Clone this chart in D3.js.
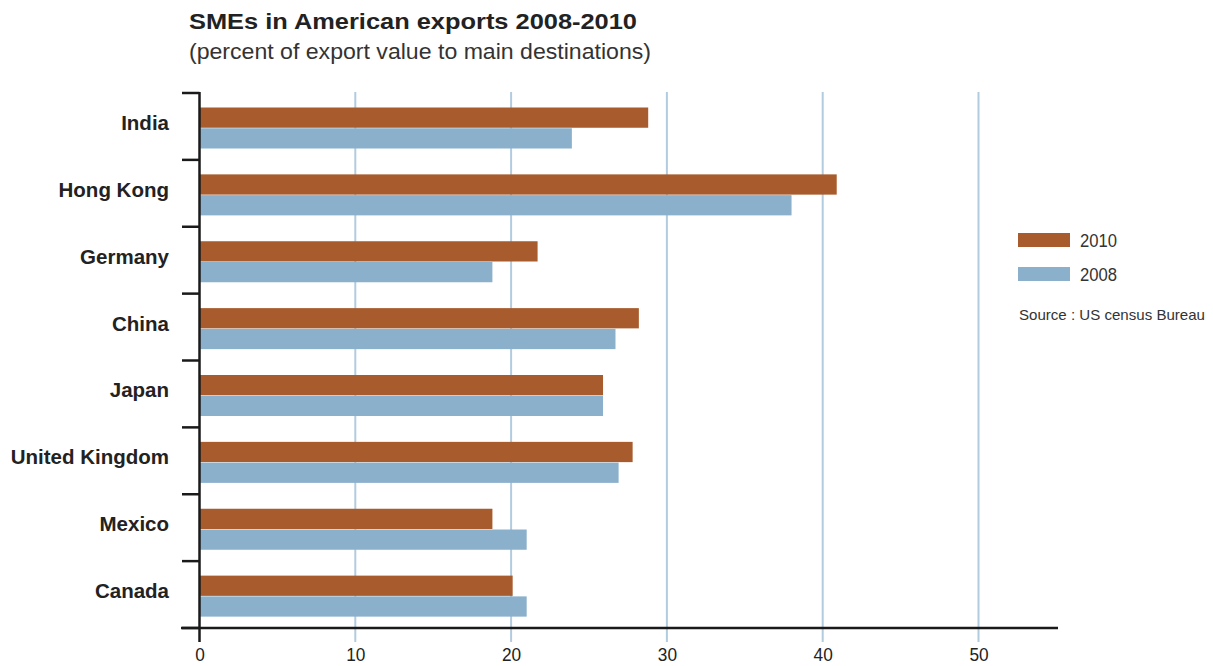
<!DOCTYPE html>
<html><head><meta charset="utf-8">
<script src="https://cdn.jsdelivr.net/npm/d3@7"></script>
<style>
html,body{margin:0;padding:0;background:#fff;}
svg{display:block;font-family:"Liberation Sans",Arial,Helvetica,sans-serif;}
</style></head>
<body>
<svg id="chart" width="1213" height="666"></svg>
<script>
const categories = ["India","Hong Kong","Germany","China","Japan","United Kingdom","Mexico","Canada"];
const values2010 = [28.8, 40.9, 21.7, 28.2, 25.9, 27.8, 18.8, 20.1];
const values2008 = [23.9, 38.0, 18.8, 26.7, 25.9, 26.9, 21.0, 21.0];
const seriesNames = ["2010","2008"];
const seriesColors = ["#A85B2C","#8AB0CB"];
const xTicks = [0,10,20,30,40,50];
const title = "SMEs in American exports 2008-2010";
const subtitle = "(percent of export value to main destinations)";
const source = "Source : US census Bureau";

const svg = d3.select("#chart");
const x0 = 199.5, pxPerUnit = 15.58;
const x = d3.scaleLinear().domain([0,55]).range([x0, x0 + 55*pxPerUnit]);
const y = d3.scaleBand().domain(categories).range([93,628]).paddingInner(0).paddingOuter(0);
const inner = d3.scaleBand().domain(seriesNames).range([0,41]).paddingInner(1/41);
const innerOffset = 14.5;

// gridlines
svg.append("g").selectAll("line").data(xTicks.filter(t=>t>0)).join("line")
  .attr("x1",d=>x(d)).attr("x2",d=>x(d)).attr("y1",92).attr("y2",642)
  .attr("stroke","#B2CCDF").attr("stroke-width",2);

// bars
const data = categories.map((c,i)=>({c, vals:[{s:"2010",v:values2010[i]},{s:"2008",v:values2008[i]}]}));
const groups = svg.append("g").selectAll("g").data(data).join("g")
  .attr("transform",d=>`translate(0,${y(d.c)+innerOffset})`);
groups.selectAll("rect").data(d=>d.vals).join("rect")
  .attr("x",x(0)).attr("y",d=>inner(d.s)).attr("height",inner.bandwidth())
  .attr("width",d=>x(d.v)-x(0))
  .attr("fill",d=>seriesColors[seriesNames.indexOf(d.s)]);

// x axis
const xAxis = svg.append("g").attr("transform","translate(0,628)")
  .call(d3.axisBottom(x).tickValues(xTicks).tickSize(0));
xAxis.select(".domain").remove();
xAxis.append("line").attr("x1",181).attr("x2",1058).attr("y1",0).attr("y2",0)
  .attr("stroke","#1a1a1a").attr("stroke-width",2.5);
xAxis.selectAll(".tick text").attr("font-size",19).attr("fill","#222")
  .attr("y",33).attr("dy",0)
  .attr("textLength",function(){return this.textContent.length*9.6;})
  .attr("lengthAdjust","spacingAndGlyphs");

// y axis
const yAxisG = svg.append("g");
yAxisG.append("line").attr("x1",x0).attr("x2",x0).attr("y1",92).attr("y2",642)
  .attr("stroke","#1a1a1a").attr("stroke-width",2.5);
const boundaries = categories.map(c=>y(c)).concat([y.range()[1]]);
yAxisG.selectAll("line.tick").data(boundaries).join("line").attr("class","tick")
  .attr("x1",182).attr("x2",x0).attr("y1",d=>d).attr("y2",d=>d)
  .attr("stroke","#1a1a1a").attr("stroke-width",2.5);
yAxisG.selectAll("text").data(categories).join("text")
  .attr("x",169).attr("y",d=>y(d)+y.bandwidth()/2+3.5)
  .attr("text-anchor","end").attr("font-size",20.5).attr("font-weight","bold").attr("fill","#222")
  .text(d=>d);

// title
svg.append("text").attr("x",189).attr("y",29).attr("font-size",22).attr("font-weight","bold")
  .attr("fill","#222").attr("textLength",448).attr("lengthAdjust","spacingAndGlyphs").text(title);
svg.append("text").attr("x",189).attr("y",59).attr("font-size",22).attr("fill","#333")
  .attr("textLength",462).attr("lengthAdjust","spacingAndGlyphs").text(subtitle);

// legend
const leg = svg.append("g").attr("transform","translate(1018,233)");
seriesNames.forEach((s,i)=>{
  leg.append("rect").attr("x",0).attr("y",i*34).attr("width",52).attr("height",14).attr("fill",seriesColors[i]);
  leg.append("text").attr("x",62).attr("y",i*34+14).attr("font-size",17.5).attr("fill","#333")
    .attr("textLength",37).attr("lengthAdjust","spacingAndGlyphs").text(s);
});
svg.append("text").attr("x",1019).attr("y",320).attr("font-size",15).attr("fill","#333")
  .attr("textLength",186).attr("lengthAdjust","spacingAndGlyphs").text(source);
</script>
</body></html>
